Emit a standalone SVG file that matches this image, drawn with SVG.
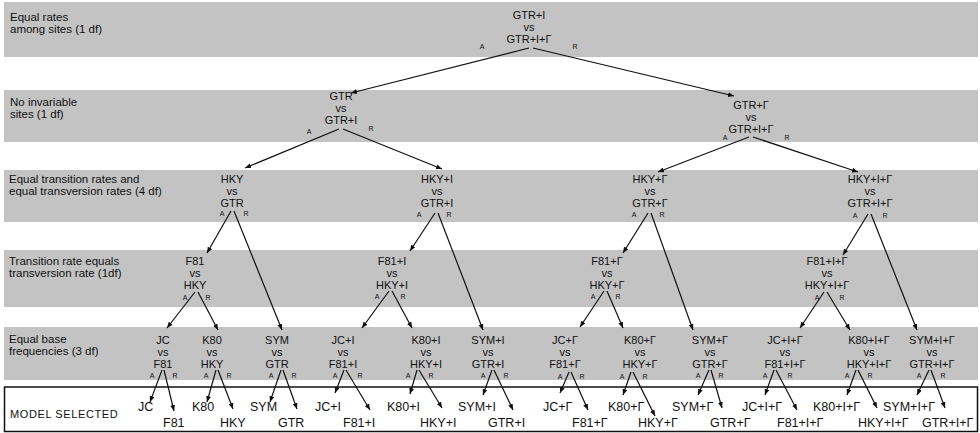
<svg xmlns="http://www.w3.org/2000/svg" width="980" height="433" viewBox="0 0 980 433">
<defs>
<style>
.band{fill:#c3c3c3}
.lbl{font-family:"Liberation Sans",Arial,sans-serif;font-size:11.5px;fill:#111}
.nd{font-family:"Liberation Sans",Arial,sans-serif;font-size:11px;fill:#111;text-anchor:middle}
.ar{font-family:"Liberation Sans",Arial,sans-serif;font-size:7px;fill:#111;text-anchor:middle}
.ms{font-family:"Liberation Sans",Arial,sans-serif;font-size:12.5px;fill:#111}
.cn line{stroke:#111;stroke-width:1.2;marker-end:url(#ah)}
</style>
<marker id="ah" markerWidth="6" markerHeight="5" refX="6" refY="2.5" orient="auto" markerUnits="userSpaceOnUse"><path d="M0,0 L6,2.5 L0,5 z" fill="#111"/></marker>
</defs>
<rect width="980" height="433" fill="#fff"/>
<g id="bands">
<rect class="band" x="4" y="2" width="974" height="55"/>
<rect class="band" x="4" y="90" width="974" height="52"/>
<rect class="band" x="4" y="170" width="974" height="52"/>
<rect class="band" x="4" y="250" width="974" height="57"/>
<rect class="band" x="4" y="327" width="974" height="53"/>
<rect x="4.5" y="387" width="973" height="44.5" fill="#fff" stroke="#111" stroke-width="1.5"/>
</g>
<g id="labels">
<text class="lbl" x="10" y="21">Equal rates</text>
<text class="lbl" x="10" y="33">among sites (1 df)</text>
<text class="lbl" x="10" y="106">No invariable</text>
<text class="lbl" x="10" y="118">sites (1 df)</text>
<text class="lbl" x="9" y="183">Equal transition rates and</text>
<text class="lbl" x="9" y="195">equal transversion rates (4 df)</text>
<text class="lbl" x="9" y="265">Transition rate equals</text>
<text class="lbl" x="9" y="277">transversion rate (1df)</text>
<text class="lbl" x="9" y="343">Equal base</text>
<text class="lbl" x="9" y="355">frequencies (3 df)</text>
<text class="lbl" x="10" y="418" style="font-size:11px;letter-spacing:0.6px">MODEL SELECTED</text>
</g>
<g id="n1"><text class="nd" x="529" y="19">GTR+I</text><text class="nd" x="529" y="31">vs</text><text class="nd" x="529" y="43">GTR+I+Γ</text><text class="ar" x="482" y="49">A</text><text class="ar" x="575" y="49">R</text></g>
<g id="n2a"><text class="nd" x="341" y="100">GTR</text><text class="nd" x="341" y="112">vs</text><text class="nd" x="341" y="124">GTR+I</text><text class="ar" x="309" y="134">A</text><text class="ar" x="371" y="131">R</text></g>
<g id="n2b"><text class="nd" x="751" y="109">GTR+Γ</text><text class="nd" x="751" y="121">vs</text><text class="nd" x="751" y="133">GTR+I+Γ</text><text class="ar" x="725" y="140">A</text><text class="ar" x="787" y="140">R</text></g>
<g id="n3a"><text class="nd" x="232" y="183">HKY</text><text class="nd" x="232" y="195">vs</text><text class="nd" x="232" y="207">GTR</text><text class="ar" x="222" y="216">A</text><text class="ar" x="246" y="216">R</text></g>
<g id="n3b"><text class="nd" x="437" y="183">HKY+I</text><text class="nd" x="437" y="195">vs</text><text class="nd" x="437" y="207">GTR+I</text><text class="ar" x="419" y="217">A</text><text class="ar" x="449" y="217">R</text></g>
<g id="n3c"><text class="nd" x="650" y="183">HKY+Γ</text><text class="nd" x="650" y="195">vs</text><text class="nd" x="650" y="207">GTR+Γ</text><text class="ar" x="634" y="217">A</text><text class="ar" x="662" y="217">R</text></g>
<g id="n3d"><text class="nd" x="870" y="183">HKY+I+Γ</text><text class="nd" x="870" y="195">vs</text><text class="nd" x="870" y="207">GTR+I+Γ</text><text class="ar" x="855" y="218">A</text><text class="ar" x="885" y="218">R</text></g>
<g id="n4a"><text class="nd" x="195" y="265">F81</text><text class="nd" x="195" y="277">vs</text><text class="nd" x="195" y="289">HKY</text><text class="ar" x="185" y="300">A</text><text class="ar" x="208" y="300">R</text></g>
<g id="n4b"><text class="nd" x="392" y="265">F81+I</text><text class="nd" x="392" y="277">vs</text><text class="nd" x="392" y="289">HKY+I</text><text class="ar" x="377" y="299">A</text><text class="ar" x="403" y="299">R</text></g>
<g id="n4c"><text class="nd" x="607" y="265">F81+Γ</text><text class="nd" x="607" y="277">vs</text><text class="nd" x="607" y="289">HKY+Γ</text><text class="ar" x="593" y="299">A</text><text class="ar" x="618" y="299">R</text></g>
<g id="n4d"><text class="nd" x="827" y="265">F81+I+Γ</text><text class="nd" x="827" y="277">vs</text><text class="nd" x="827" y="289">HKY+I+Γ</text><text class="ar" x="817" y="300">A</text><text class="ar" x="842" y="300">R</text></g>
<g id="n5a"><text class="nd" x="163" y="344">JC</text><text class="nd" x="163" y="356">vs</text><text class="nd" x="163" y="368">F81</text><text class="ar" x="152" y="378">A</text><text class="ar" x="175" y="378">R</text></g>
<g id="n5b"><text class="nd" x="212" y="344">K80</text><text class="nd" x="212" y="356">vs</text><text class="nd" x="212" y="368">HKY</text><text class="ar" x="206" y="378">A</text><text class="ar" x="229" y="378">R</text></g>
<g id="n5c"><text class="nd" x="277" y="344">SYM</text><text class="nd" x="277" y="356">vs</text><text class="nd" x="277" y="368">GTR</text><text class="ar" x="271" y="378">A</text><text class="ar" x="294" y="378">R</text></g>
<g id="n5d"><text class="nd" x="343" y="344">JC+I</text><text class="nd" x="343" y="356">vs</text><text class="nd" x="343" y="368">F81+I</text><text class="ar" x="335" y="378">A</text><text class="ar" x="360" y="378">R</text></g>
<g id="n5e"><text class="nd" x="426" y="344">K80+I</text><text class="nd" x="426" y="356">vs</text><text class="nd" x="426" y="368">HKY+I</text><text class="ar" x="408" y="378">A</text><text class="ar" x="431" y="378">R</text></g>
<g id="n5f"><text class="nd" x="488" y="344">SYM+I</text><text class="nd" x="488" y="356">vs</text><text class="nd" x="488" y="368">GTR+I</text><text class="ar" x="483" y="378">A</text><text class="ar" x="506" y="378">R</text></g>
<g id="n5g"><text class="nd" x="565" y="344">JC+Γ</text><text class="nd" x="565" y="356">vs</text><text class="nd" x="565" y="368">F81+Γ</text><text class="ar" x="560" y="379">A</text><text class="ar" x="582" y="379">R</text></g>
<g id="n5h"><text class="nd" x="640" y="344">K80+Γ</text><text class="nd" x="640" y="356">vs</text><text class="nd" x="640" y="368">HKY+Γ</text><text class="ar" x="622" y="379">A</text><text class="ar" x="645" y="379">R</text></g>
<g id="n5i"><text class="nd" x="710" y="344">SYM+Γ</text><text class="nd" x="710" y="356">vs</text><text class="nd" x="710" y="368">GTR+Γ</text><text class="ar" x="698" y="378">A</text><text class="ar" x="721" y="378">R</text></g>
<g id="n5j"><text class="nd" x="785" y="344">JC+I+Γ</text><text class="nd" x="785" y="356">vs</text><text class="nd" x="785" y="368">F81+I+Γ</text><text class="ar" x="765" y="378">A</text><text class="ar" x="790" y="378">R</text></g>
<g id="n5k"><text class="nd" x="869" y="344">K80+I+Γ</text><text class="nd" x="869" y="356">vs</text><text class="nd" x="869" y="368">HKY+I+Γ</text><text class="ar" x="847" y="378">A</text><text class="ar" x="870" y="378">R</text></g>
<g id="n5l"><text class="nd" x="932" y="344">SYM+I+Γ</text><text class="nd" x="932" y="356">vs</text><text class="nd" x="932" y="368">GTR+I+Γ</text><text class="ar" x="919" y="378">A</text><text class="ar" x="943" y="378">R</text></g>
<g id="selected">
<text class="ms" x="138" y="411">JC</text><text class="ms" x="163" y="427">F81</text>
<text class="ms" x="192" y="411">K80</text><text class="ms" x="220" y="427">HKY</text>
<text class="ms" x="250" y="411">SYM</text><text class="ms" x="278" y="427">GTR</text>
<text class="ms" x="315" y="411">JC+I</text><text class="ms" x="343" y="427">F81+I</text>
<text class="ms" x="387" y="411">K80+I</text><text class="ms" x="420" y="427">HKY+I</text>
<text class="ms" x="458" y="411">SYM+I</text><text class="ms" x="488" y="427">GTR+I</text>
<text class="ms" x="543" y="411">JC+Γ</text><text class="ms" x="572" y="427">F81+Γ</text>
<text class="ms" x="608" y="411">K80+Γ</text><text class="ms" x="638" y="427">HKY+Γ</text>
<text class="ms" x="672" y="411">SYM+Γ</text><text class="ms" x="710" y="427">GTR+Γ</text>
<text class="ms" x="742" y="411">JC+I+Γ</text><text class="ms" x="777" y="427">F81+I+Γ</text>
<text class="ms" x="813" y="411">K80+I+Γ</text><text class="ms" x="858" y="427">HKY+I+Γ</text>
<text class="ms" x="883" y="411">SYM+I+Γ</text><text class="ms" x="922" y="427">GTR+I+Γ</text>
</g>
<g id="connectors" class="cn">
<line x1="529" y1="48" x2="351" y2="93"/><line x1="533" y1="48" x2="734" y2="96"/>
<line x1="339" y1="129" x2="245" y2="168"/><line x1="343" y1="129" x2="442" y2="169"/>
<line x1="749" y1="137" x2="658" y2="172"/><line x1="753" y1="137" x2="858" y2="172"/>
<line x1="231" y1="211" x2="207" y2="253"/><line x1="234" y1="211" x2="282" y2="330"/>
<line x1="435" y1="213" x2="410" y2="251"/><line x1="438" y1="213" x2="483" y2="330"/>
<line x1="648" y1="213" x2="623" y2="253"/><line x1="651" y1="213" x2="693" y2="330"/>
<line x1="868" y1="214" x2="843" y2="255"/><line x1="871" y1="214" x2="917" y2="330"/>
<line x1="195" y1="292" x2="167" y2="328"/><line x1="198" y1="292" x2="218" y2="330"/>
<line x1="389" y1="291" x2="362" y2="328"/><line x1="392" y1="291" x2="412" y2="328"/>
<line x1="604" y1="291" x2="580" y2="327"/><line x1="607" y1="291" x2="623" y2="328"/>
<line x1="824" y1="292" x2="800" y2="328"/><line x1="827" y1="292" x2="850" y2="330"/>
<line x1="162" y1="370" x2="150" y2="402"/><line x1="164" y1="370" x2="174" y2="411"/>
<line x1="216" y1="370" x2="207" y2="402"/><line x1="218" y1="370" x2="233" y2="409"/>
<line x1="281" y1="370" x2="270" y2="402"/><line x1="283" y1="370" x2="297" y2="409"/>
<line x1="344" y1="370" x2="335" y2="393"/><line x1="346" y1="370" x2="370" y2="410"/>
<line x1="417" y1="370" x2="410" y2="394"/><line x1="419" y1="370" x2="442" y2="408"/>
<line x1="492" y1="370" x2="483" y2="395"/><line x1="494" y1="370" x2="513" y2="410"/>
<line x1="569" y1="372" x2="560" y2="393"/><line x1="571" y1="372" x2="588" y2="410"/>
<line x1="631" y1="372" x2="623" y2="395"/><line x1="633" y1="372" x2="655" y2="416"/>
<line x1="709" y1="370" x2="698" y2="395"/><line x1="711" y1="370" x2="722" y2="408"/>
<line x1="774" y1="370" x2="765" y2="395"/><line x1="776" y1="370" x2="797" y2="410"/>
<line x1="856" y1="370" x2="847" y2="395"/><line x1="858" y1="370" x2="877" y2="408"/>
<line x1="929" y1="370" x2="917" y2="395"/><line x1="931" y1="370" x2="945" y2="408"/>
</g>
</svg>
